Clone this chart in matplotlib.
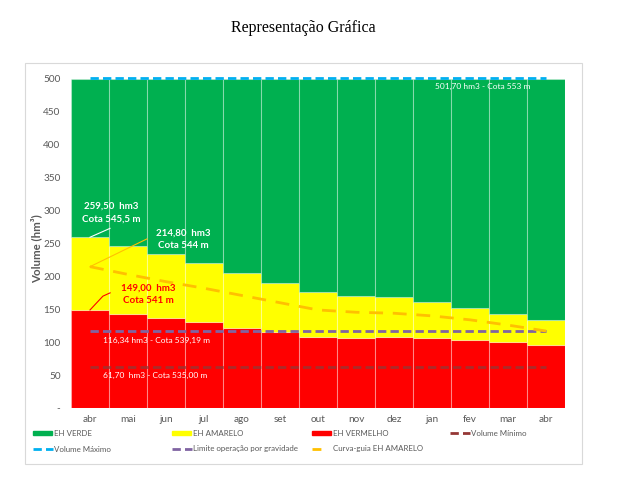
import matplotlib
matplotlib.use("Agg")
import matplotlib.pyplot as plt
from matplotlib.patches import Rectangle
from matplotlib.lines import Line2D

plt.rcParams['font.family'] = ['Lato', 'DejaVu Sans']

months = ["abr", "mai", "jun", "jul", "ago", "set", "out", "nov", "dez", "jan", "fev", "mar", "abr"]
eh_vermelho = [149.0, 143, 137, 130, 122, 115, 108, 106.5, 108, 106.5, 103.5, 100, 96]
eh_amarelo_top = [259.5, 246, 234, 220, 205, 189.5, 176, 170, 168, 161, 151.5, 143, 133]
eh_verde_top = [500] * 13
curva_guia = [214.8, 203, 192, 182, 171, 160, 149, 145.5, 144, 140, 134, 126, 117]
volume_maximo = 501.70
limite_gravidade = 116.34
volume_minimo = 61.70
yticks = [0, 50, 100, 150, 200, 250, 300, 350, 400, 450, 500]
ytick_labels = ["-", "50", "100", "150", "200", "250", "300", "350", "400", "450", "500"]

c_green = "#00B050"
c_yellow = "#FFFF00"
c_red = "#FF0000"
c_blue = "#00B0F0"
c_purple = "#8064A2"
c_minimo = "#953735"
c_orange = "#FFC000"
c_text = "#595959"

W, H = 635, 500
fig = plt.figure(figsize=(6.35, 5.0), dpi=100)


def fx(px):
    return px / W


def fy(py):
    return 1 - py / H


fig.patches.append(Rectangle((fx(25), fy(464)), (582 - 25) / W, (464 - 63) / H,
                             transform=fig.transFigure, fill=False, edgecolor="#d9d9d9", lw=0.8))
fig.text(fx(303), fy(28), "Representação Gráfica", ha="center", va="center",
         fontsize=11.5, family=["Liberation Serif"], color="black")

ax = fig.add_axes([fx(71), fy(408), (565 - 71) / W, (408 - 79) / H])
x = list(range(len(months)))
yel_h = [t - r for t, r in zip(eh_amarelo_top, eh_vermelho)]
grn_h = [g - t for g, t in zip(eh_verde_top, eh_amarelo_top)]
ec = (1, 1, 1, 0.3)
ax.bar(x, eh_vermelho, width=1.0, color=c_red, edgecolor=ec, linewidth=0.8)
ax.bar(x, yel_h, bottom=eh_vermelho, width=1.0, color=c_yellow, edgecolor=ec, linewidth=0.8)
ax.bar(x, grn_h, bottom=eh_amarelo_top, width=1.0, color=c_green, edgecolor=ec, linewidth=0.8)

n = len(months)
dash = (0, (3, 1.5))
ax.plot([0, n - 1], [volume_maximo] * 2, color=c_blue, lw=2, ls=dash, clip_on=False, zorder=5)
ax.plot([0, n - 1], [limite_gravidade] * 2, color=c_purple, lw=2, ls=dash, zorder=5)
ax.plot([0, n - 1], [volume_minimo] * 2, color=c_minimo, lw=2, ls=dash, zorder=5, alpha=0.8)
ax.plot(x, curva_guia, color=c_orange, lw=2, ls=(0, (5, 3.5)), zorder=5)

ax.set_xlim(-0.5, n - 0.5)
ax.set_ylim(0, 500)
ax.set_yticks(yticks)
ax.set_yticklabels(ytick_labels)
ax.set_xticks(x)
ax.set_xticklabels(months)
ax.tick_params(axis="both", length=0, labelsize=7.2, colors=c_text)
ax.tick_params(axis="y", pad=7.5)
ax.tick_params(axis="x", pad=5)
for s in ax.spines.values():
    s.set_visible(False)
fig.text(fx(36), fy(249), "Volume (hm³)", rotation=90, ha="center", va="center",
         fontsize=8.3, fontweight="bold", color=c_text)

# annotations (leader lines + labels)
ax.plot([0, 0.526], [eh_amarelo_top[0], 273], color="white", lw=0.8, zorder=6)
ax.text(0.566, 297, "259,50  hm3\nCota 545,5 m", ha="center", va="center", fontsize=7,
        fontweight="bold", color="white", linespacing=1.5, zorder=6)
ax.plot([0, 1.5], [curva_guia[0], 257], color=c_orange, lw=0.8, zorder=6)
ax.text(2.45, 256, "214,80  hm3\nCota 544 m", ha="center", va="center", fontsize=7,
        fontweight="bold", color="white", linespacing=1.5, zorder=6)
ax.plot([0, 0.34, 0.53], [eh_vermelho[0], 170, 175], color=c_red, lw=0.8, zorder=6)
ax.text(1.54, 172.5, "149,00  hm3\nCota 541 m", ha="center", va="center", fontsize=7,
        fontweight="bold", color=c_red, linespacing=1.5, zorder=6)
ax.text(1.76, 102, "116,34 hm3 - Cota 539,19 m", ha="center", va="center", fontsize=6,
        color="white")
ax.text(1.72, 49, "61,70  hm3 - Cota 535,00 m", ha="center", va="center", fontsize=6,
        color="white")
ax.text(10.34, 488, "501,70 hm3 - Cota 553 m", ha="center", va="center", fontsize=6,
        color="white")

# legend drawn manually (fixed column positions)
legend_items = [
    ("patch", c_green, "EH VERDE", 33, 433),
    ("patch", c_yellow, "EH AMARELO", 172, 433),
    ("patch", c_red, "EH VERMELHO", 312, 433),
    ("line", c_minimo, "Volume Mínimo", 450, 433),
    ("line", c_blue, "Volume Máximo", 33, 449),
    ("line", c_purple, "Limite operação por gravidade", 172, 449),
    ("oline", c_orange, "Curva-guia EH AMARELO", 312, 449),
]
for kind, col, label, px, py in legend_items:
    if kind == "patch":
        fig.patches.append(Rectangle((fx(px), fy(py + 2)), 19 / W, 4.5 / H,
                                     transform=fig.transFigure, color=col))
    elif kind == "line":
        fig.add_artist(Line2D([fx(px), fx(px + 20)], [fy(py), fy(py)], color=col, lw=2,
                              ls=(0, (3, 1.5)), transform=fig.transFigure))
    else:
        fig.add_artist(Line2D([fx(px), fx(px + 19)], [fy(py), fy(py)], color=col, lw=2,
                              ls=(0, (3.2, 5.5)), transform=fig.transFigure))
    fig.text(fx(px + 21), fy(py), label, ha="left", va="center", fontsize=5.7, color=c_text)

fig.savefig("out.png", dpi=100)
